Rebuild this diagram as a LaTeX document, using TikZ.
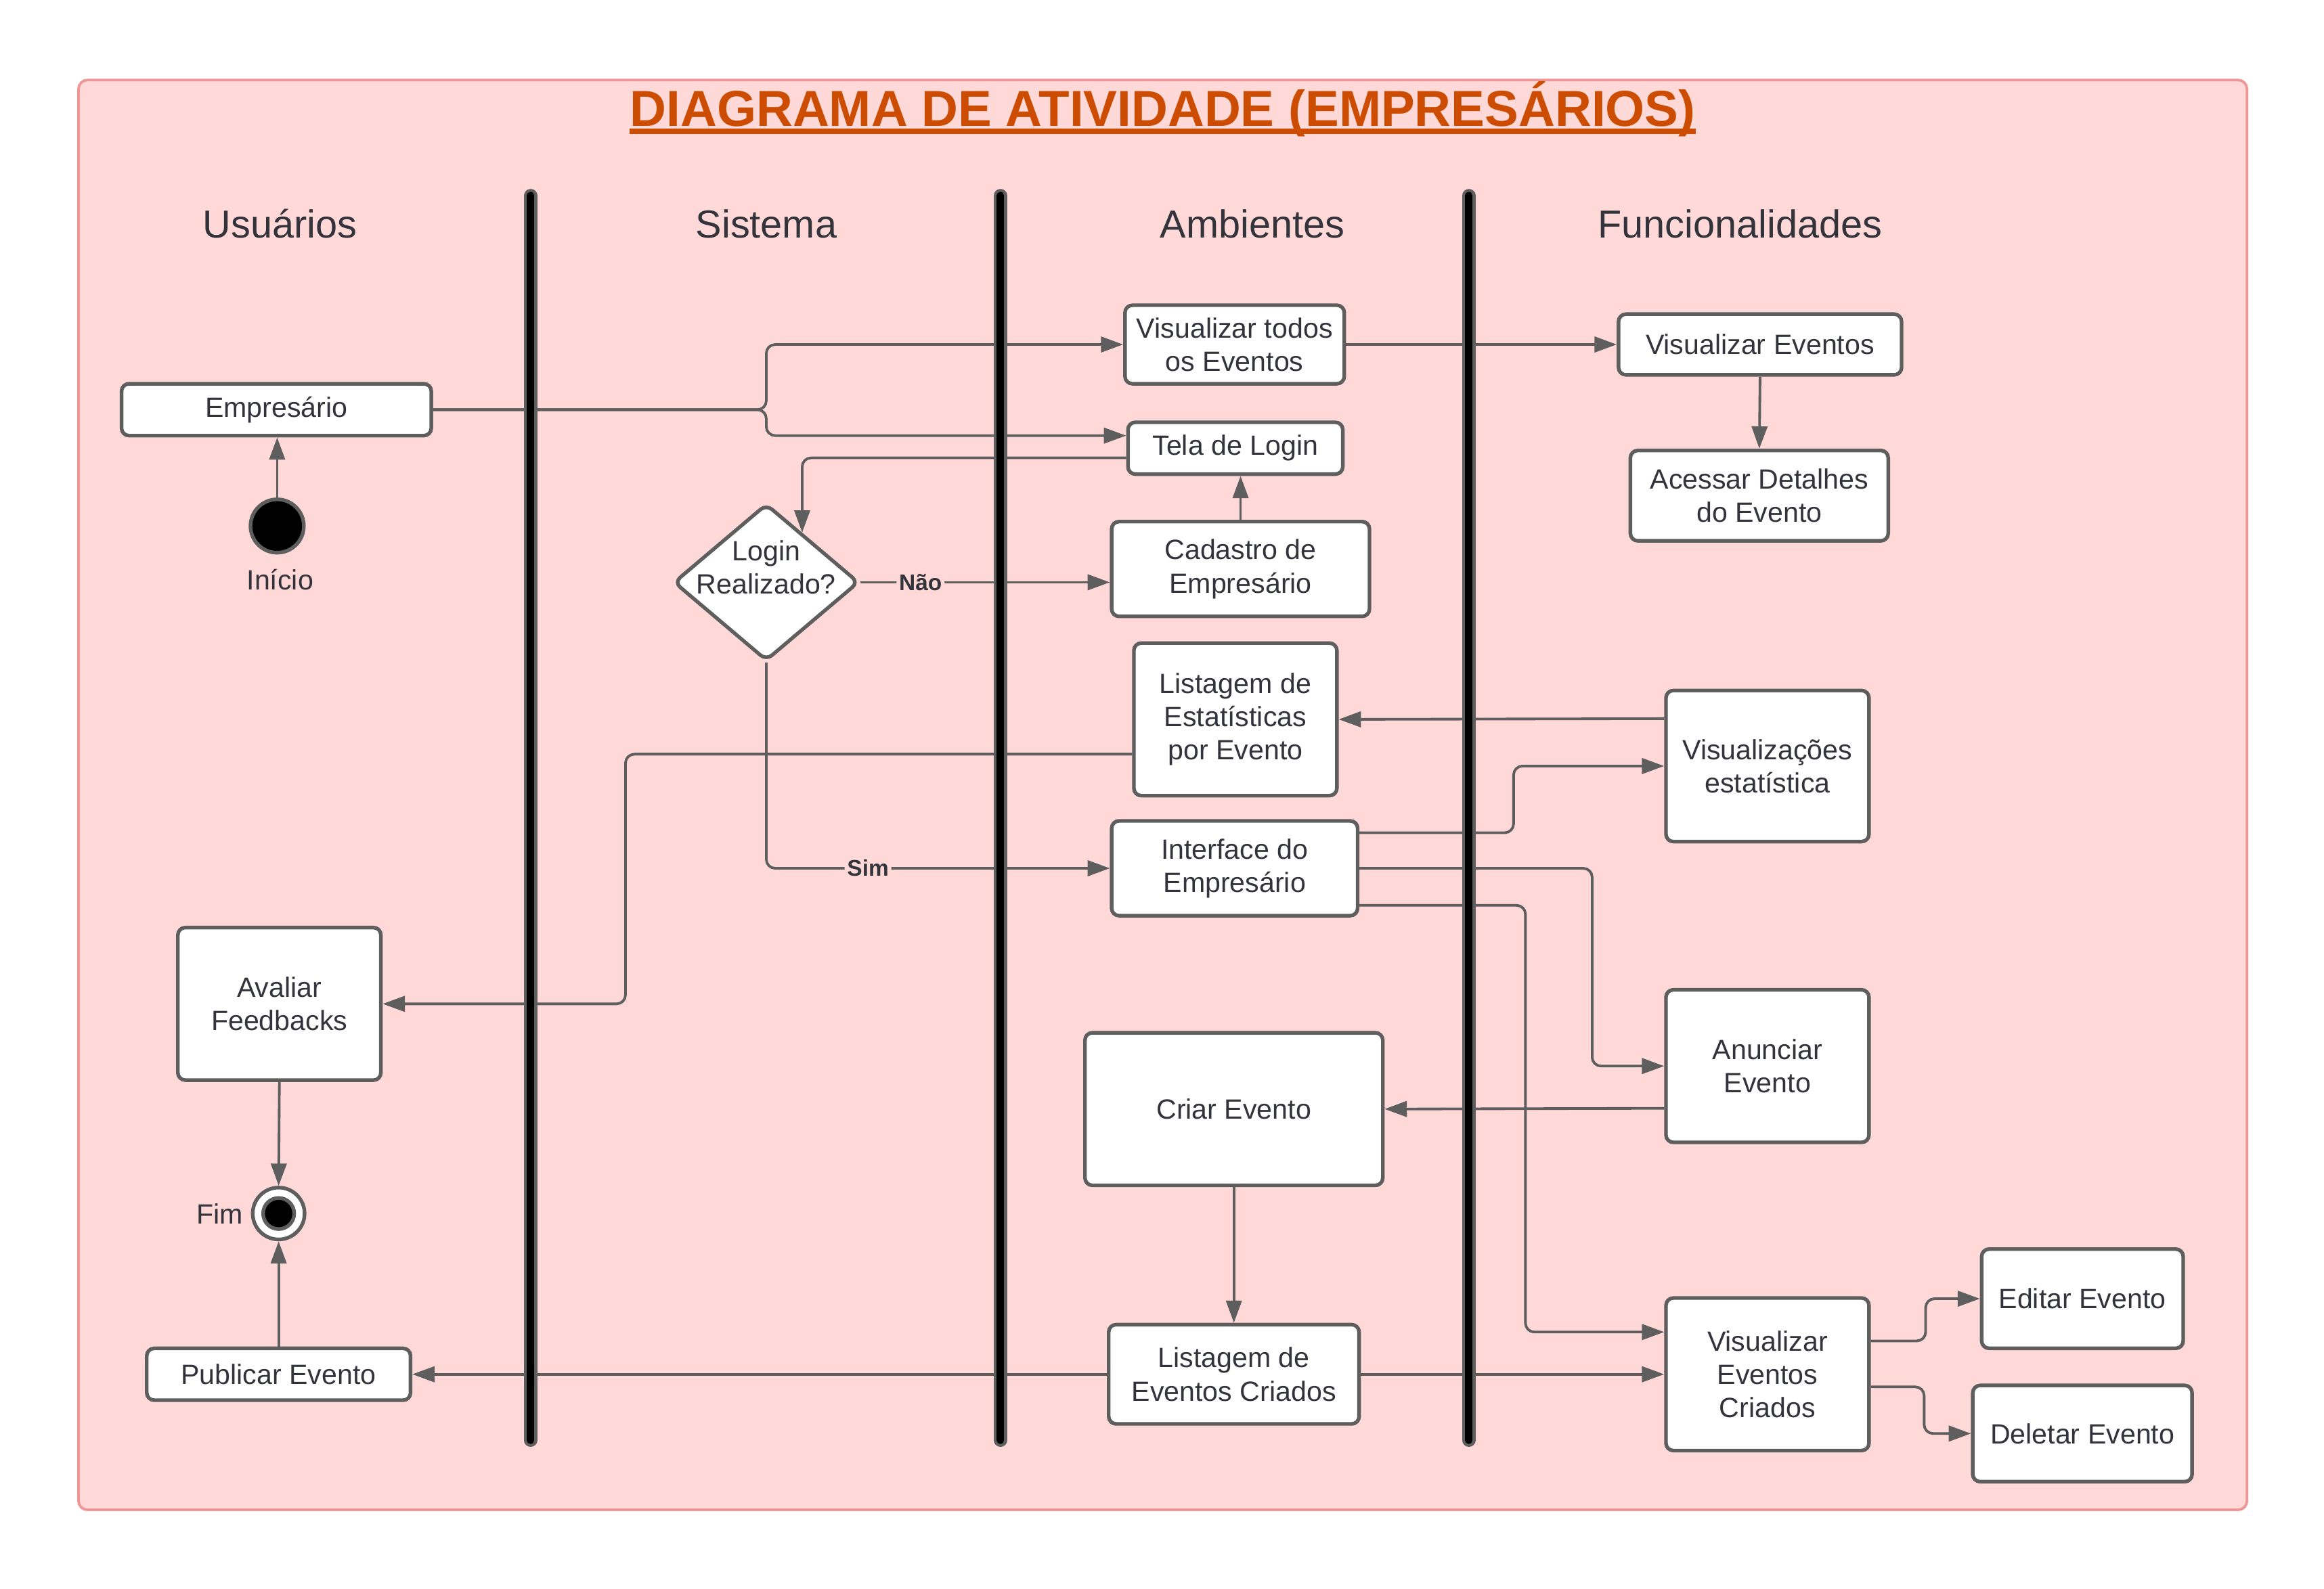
\documentclass[tikz,border=0pt]{standalone}
\usepackage{fontspec}
\setmainfont{Liberation Sans}
\usetikzlibrary{arrows.meta,shapes.geometric,calc,positioning}
\definecolor{fundo}{RGB}{255,216,216}
\definecolor{borda}{RGB}{240,150,150}
\definecolor{titulo}{RGB}{204,76,2}
\definecolor{linha}{RGB}{94,94,94}
\definecolor{texto}{RGB}{51,51,60}

\begin{document}
\begin{tikzpicture}[x=0.02cm, y=-0.02cm, font=\fontsize{10.7}{12.8}\selectfont,
	every node/.style={text=texto},
	caixa/.style={draw=linha, line width=1.4pt, fill=white, rounded corners=0.1cm, align=center, inner sep=0pt},
	seta/.style={draw=linha, line width=1pt, -{Triangle[length=0.3cm,width=0.21cm]}, rounded corners=0.12cm},
	rotulo/.style={font=\fontsize{8.7}{10}\selectfont\bfseries, fill=fundo, inner sep=1pt},
	cabecalho/.style={font=\fontsize{15}{18}\selectfont, anchor=base}]
	\useasboundingbox (0,0) rectangle (1568,1072);
	%moldura
	\draw[borda, fill=fundo, line width=1pt, rounded corners=0.12cm] (53,54) rectangle (1516,1019);
	\node[font=\fontsize{19.4}{22}\selectfont\bfseries, text=titulo, anchor=base, inner sep=0] (titulo) at (784.5,85.3) {DIAGRAMA DE ATIVIDADE (EMPRESÁRIOS)};
	\draw[titulo, line width=2pt] ([yshift=-0.064cm]titulo.base west) -- ([yshift=-0.064cm]titulo.base east);
	%raias
	\node[cabecalho] (usuarios) at (189,160.6) {Usuários};
	\node[cabecalho] (sistema) at (517,160.6) {Sistema};
	\node[cabecalho] (ambientes) at (845,160.6) {Ambientes};
	\node[cabecalho] (funcoes) at (1174,160.6) {Funcionalidades};
	%inicio e fim
	\node[circle, fill=black, draw=linha, line width=1.4pt, minimum size=0.72cm, inner sep=0] (inicio) at (187,355) {};
	\node (rotinicio) at (189,391) {Início};
	\node[circle, fill=white, draw=linha, line width=1.4pt, minimum size=0.7cm, inner sep=0] (fim) at (188,819) {};
	\node[circle, fill=black, draw=linha, line width=1.4pt, minimum size=0.42cm, inner sep=0] (fimcentro) at (fim) {};
	\node[left=0.1cm of fim, inner sep=0] (rotfim) {Fim};
	%atividades
	\node[caixa, minimum width=4.18cm, minimum height=0.7cm] (emp) at (186.5,276.5) {Empresário};
	\node[caixa, minimum width=2.96cm, minimum height=1.06cm] (vistodos) at (833,232.5) {Visualizar todos\\os Eventos};
	\node[caixa, minimum width=2.9cm, minimum height=0.7cm] (tela) at (833.5,302.5) {Tela de Login};
	\node[caixa, minimum width=3.48cm, minimum height=1.28cm] (cadastro) at (837,384) {Cadastro de\\Empresário};
	\node[diamond, draw=linha, line width=1.4pt, fill=white, rounded corners=0.1cm, minimum width=2.5cm, minimum height=2.12cm, inner sep=0] (login) at (517,393) {};
	\node[align=center, inner sep=0] (rotlogin) at (517,383) {Login\\Realizado?};
	\node[caixa, minimum width=2.74cm, minimum height=2.06cm] (listest) at (833.5,485.5) {Listagem de\\Estatísticas\\por Evento};
	\node[caixa, minimum width=3.32cm, minimum height=1.28cm] (interface) at (833,586) {Interface do\\Empresário};
	\node[caixa, minimum width=3.82cm, minimum height=0.82cm] (viseventos) at (1187.5,232.5) {Visualizar Eventos};
	\node[caixa, minimum width=3.48cm, minimum height=1.22cm] (detalhes) at (1187,334.5) {Acessar Detalhes\\do Evento};
	\node[caixa, minimum width=2.74cm, minimum height=2.04cm] (visest) at (1192.5,517) {Visualizações\\estatística};
	\node[caixa, minimum width=2.74cm, minimum height=2.06cm] (avaliar) at (188.5,677.5) {Avaliar\\Feedbacks};
	\node[caixa, minimum width=2.74cm, minimum height=2.06cm] (anunciar) at (1192.5,719.5) {Anunciar\\Evento};
	\node[caixa, minimum width=4.02cm, minimum height=2.06cm] (criar) at (832.5,748.5) {Criar Evento};
	\node[caixa, minimum width=3.56cm, minimum height=0.7cm] (publicar) at (188,927.5) {Publicar Evento};
	\node[caixa, minimum width=3.38cm, minimum height=1.34cm] (listcriados) at (832.5,927.5) {Listagem de\\Eventos Criados};
	\node[caixa, minimum width=2.74cm, minimum height=2.06cm] (viscriados) at (1192.5,927.5) {Visualizar\\Eventos\\Criados};
	\node[caixa, minimum width=2.72cm, minimum height=1.34cm] (editar) at (1405,876.5) {Editar Evento};
	\node[caixa, minimum width=2.96cm, minimum height=1.3cm] (deletar) at (1405,967.5) {Deletar Evento};
	%setas
	\coordinate (desvio) at (517,276.5);
	\coordinate (entrada) at ($(login.north)!0.38!(login.east)$);
	\coordinate (volta) at (422,677.5);
	\draw[seta] (inicio.north) -- (inicio.north |- emp.south);
	\draw[seta] (emp.east) -- (desvio) |- (vistodos.west);
	\draw[seta] (emp.east) -- (desvio) |- ([yshift=0.17cm]tela.west);
	\draw[seta] (vistodos.east) -- (viseventos.west);
	\draw[seta] (viseventos.south) -- (detalhes.north);
	\draw[seta] ([yshift=-0.13cm]tela.west) -| (entrada);
	\draw[seta] (login.east) -- node[rotulo, pos=0.24] {Não} (login.east -| cadastro.west);
	\draw[seta] (cadastro.north) -- (cadastro.north |- tela.south);
	\draw[seta] (login.south) |- node[rotulo, pos=0.648] {Sim} (interface.west);
	\draw[seta] ([yshift=-0.47cm]listest.west) -| (volta) -- (avaliar.east);
	\draw[seta] ([yshift=0.64cm]visest.west) -- (listest.east);
	\draw[seta] ([yshift=0.48cm]interface.east) -- ++(104,0) |- (visest.west);
	\draw[seta] (interface.east) -- ++(157,0) |- (anunciar.west);
	\draw[seta] ([yshift=-0.5cm]interface.east) -- ++(112,0) |- ([yshift=0.57cm]viscriados.west);
	\draw[seta] ([yshift=-0.57cm]anunciar.west) -- (criar.east);
	\draw[seta] (criar.south) -- (listcriados.north);
	\draw[seta] (listcriados.west) -- (publicar.east);
	\draw[seta] (listcriados.east) -- (viscriados.west);
	\draw[seta] ([yshift=0.45cm]viscriados.east) -- ++(37,0) |- (editar.west);
	\draw[seta] ([yshift=-0.17cm]viscriados.east) -- ++(36,0) |- (deletar.west);
	\draw[seta] (avaliar.south) -- (fim.north);
	\draw[seta] (publicar.north) -- (fim.south);
	%barras das raias
	\foreach \x in {358,675,991} {
		\draw[linha, line width=0.18cm, line cap=round] (\x,132) -- (\x,972);
		\draw[black, line width=0.1cm, line cap=round] (\x,132) -- (\x,972);
	}
\end{tikzpicture}
\end{document}
